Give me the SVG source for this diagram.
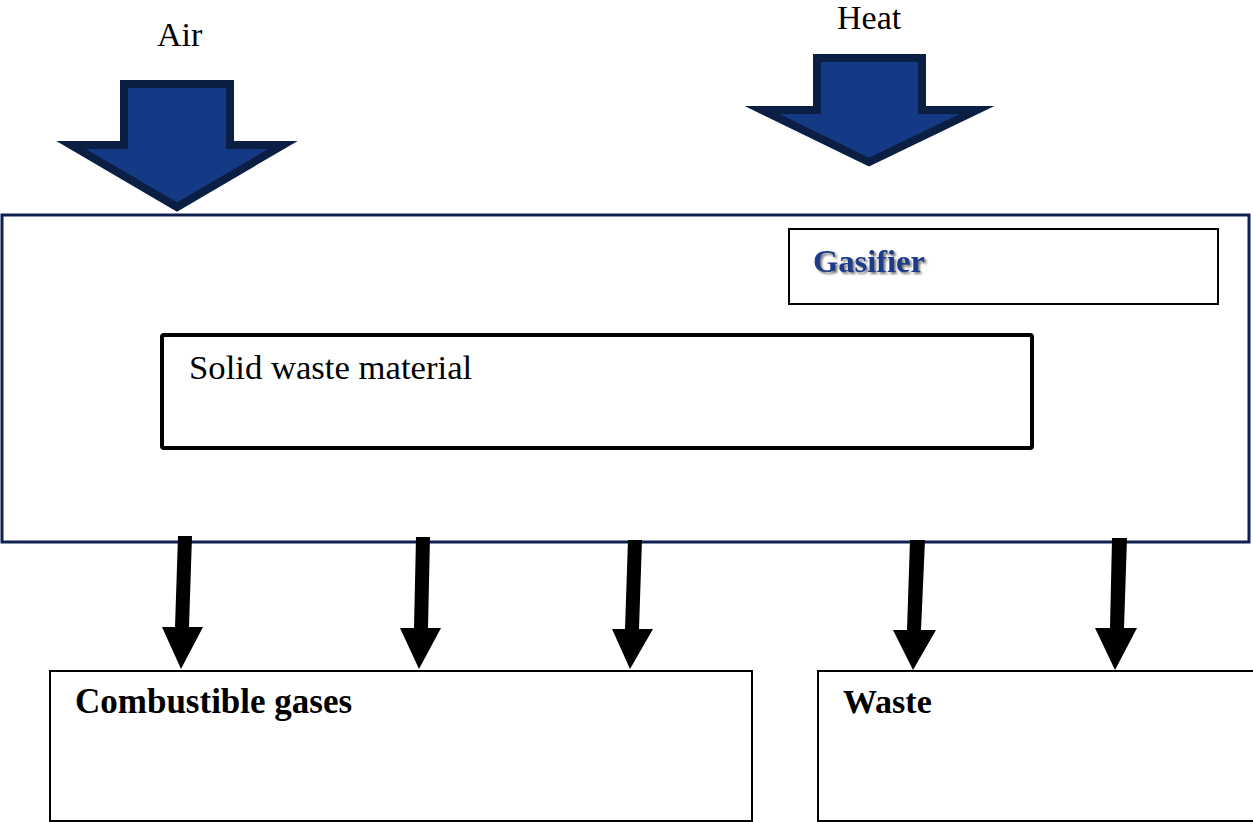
<svg xmlns="http://www.w3.org/2000/svg" width="1253" height="822" viewBox="0 0 1253 822">
<defs>
<style>
.t{font-family:"Liberation Serif","Times New Roman",serif;fill:#000}
.b{font-weight:bold}
.blue{fill:#153a85;stroke:#0b1f45;stroke-width:8;stroke-linejoin:miter;stroke-miterlimit:10}
.blk{fill:#000;stroke:none}
.box{fill:#fff;stroke:#000;stroke-width:2}
</style>
<filter id="sh" x="-10%" y="-20%" width="130%" height="150%">
<feDropShadow dx="2" dy="2" stdDeviation="1" flood-color="#555" flood-opacity="0.8"/>
</filter>
</defs>
<rect width="1253" height="822" fill="#fff"/>
<g id="air">
<polygon class="blue" points="124,84 230,84 230,145 283,145 177,207 71,145 124,145"/>
<text class="t" x="157" y="46" font-size="34">Air</text>
</g>
<g id="heat">
<polygon class="blue" points="817,58 922,58 922,110 977,110 869,162 762,110 817,110"/>
<text class="t" x="837" y="29" font-size="34">Heat</text>
</g>
<g id="gasifier">
<rect x="2" y="215" width="1247" height="327" fill="#fff" stroke="#0d2150" stroke-width="3"/>
</g>
<g id="gasifier-label">
<rect class="box" x="789" y="229" width="429" height="75"/>
<text class="t b" x="813" y="272" font-size="32.5" style="fill:#1a3a8a" filter="url(#sh)">Gasifier</text>
</g>
<g id="solid-waste">
<rect x="162" y="335" width="870" height="113" rx="2" fill="#fff" stroke="#000" stroke-width="4"/>
<text class="t" x="189" y="379" font-size="34.7">Solid waste material</text>
</g>
<g id="combustible-gases">
<rect class="box" x="50" y="671" width="702" height="150"/>
<text class="t b" x="75" y="713" font-size="35">Combustible gases</text>
</g>
<g id="waste">
<rect class="box" x="818" y="671" width="440" height="150"/>
<text class="t b" x="843" y="713" font-size="34">Waste</text>
</g>
<g id="connectors">
<polygon class="blk" points="178,536 192,536 189,627 203,627 181,669 162,627 175,627"/>
<polygon class="blk" points="416,537 430,537 428,628 441,628 419,669 400,628 414,628"/>
<polygon class="blk" points="628,540 642,540 639,629 653,629 630,669 612,629 625,629"/>
<polygon class="blk" points="910,540 925,540 921,630 936,630 913,670 893,630 907,630"/>
<polygon class="blk" points="1112,538 1127,538 1124,628 1137,628 1115,670 1095,628 1110,628"/>
</g>
</svg>
